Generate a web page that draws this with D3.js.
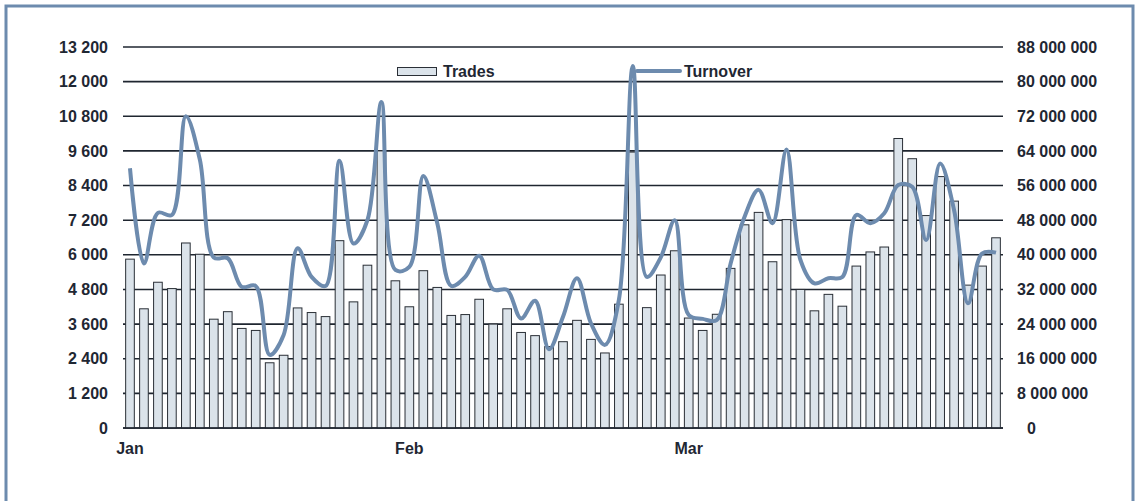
<!DOCTYPE html>
<html>
<head>
<meta charset="utf-8">
<script src="https://cdn.jsdelivr.net/npm/d3@7"></script>
<style>
  body { margin: 0; background: #fff; }
  text { font-family: "Liberation Sans", Arial, sans-serif; font-weight: bold; fill: #1f2733; }
</style>
</head>
<body>
<div id="chart"></div>
<script>
// daily trades (left axis)
var trades = [5850, 4130, 5050, 4830, 6410, 6020, 3770, 4030, 3450, 3380,
              2260, 2520, 4160, 4000, 3860, 6490, 4370, 5640, 9600, 5100,
              4200, 5450, 4870, 3900, 3930, 4460, 3600, 4130, 3310, 3200,
              2820, 2990, 3730, 3070, 2600, 4290, 9560, 4170, 5300, 6140,
              3810, 3380, 3940, 5530, 7040, 7470, 5760, 7220, 4800, 4060,
              4630, 4220, 5610, 6100, 6270, 10030, 9330, 7360, 8710, 7860,
              4950, 5610, 6590];
// daily turnover, millions (right axis)
var turnover = [60.0, 38.0, 49.7, 49.2, 72.0, 62.0, 39.4, 39.2, 32.6, 32.8,
                16.9, 21.5, 41.5, 34.9, 32.8, 61.7, 42.6, 48.0, 75.3, 36.5,
                37.2, 58.2, 47.3, 32.8, 34.9, 39.8, 32.0, 31.9, 25.3, 29.4,
                18.2, 25.7, 34.6, 24.2, 19.2, 29.6, 83.6, 34.9, 39.4, 48.0,
                26.1, 25.2, 24.9, 38.0, 48.8, 55.0, 47.3, 64.3, 38.8, 33.4,
                34.6, 34.9, 49.2, 47.3, 49.6, 56.1, 55.7, 43.4, 61.1, 50.3,
                28.8, 40.3, 40.5];
var monthLabels = ["Jan", "Feb", "Mar"];
var monthStarts = [0, 20, 40];
var leftTicks = [0, 1200, 2400, 3600, 4800, 6000, 7200, 8400, 9600, 10800, 12000, 13200];
var rightTicks = [0, 8, 16, 24, 32, 40, 48, 56, 64, 72, 80, 88];

var width = 1139, height = 501;
var margin = {top: 47, right: 136, bottom: 73, left: 123};

var svg = d3.select("#chart").append("svg")
    .attr("width", width)
    .attr("height", height);

// frame
svg.append("rect")
    .attr("x", 6).attr("y", 6)
    .attr("width", 1127).attr("height", 520)
    .attr("fill", "none")
    .attr("stroke", "#6d8bae")
    .attr("stroke-width", 3);

var x = d3.scaleBand()
    .domain(d3.range(trades.length))
    .range([margin.left, width - margin.right])
    .paddingInner(0.38)
    .paddingOuter(0.19);

var yL = d3.scaleLinear().domain([0, 13200]).range([height - margin.bottom, margin.top]);
var yR = d3.scaleLinear().domain([0, 88]).range([height - margin.bottom, margin.top]);

var fmt = function(v) { return d3.format(",")(v).replace(/,/g, " "); };

// gridlines
svg.append("g").selectAll("line")
    .data(leftTicks)
    .enter()
    .append("line")
        .attr("x1", margin.left).attr("x2", width - margin.right)
        .attr("y1", function(d) { return yL(d); })
        .attr("y2", function(d) { return yL(d); })
        .style("stroke", "#1f2630")
        .style("stroke-width", 1.6);

// left axis
var leftAxis = svg.append("g")
    .attr("transform", "translate(" + margin.left + ",0)")
    .call(d3.axisLeft(yL).tickValues(leftTicks).tickFormat(fmt).tickSize(0).tickPadding(15));
leftAxis.select(".domain").remove();
leftAxis.selectAll("text").style("font-size", "16px");

// right axis
var rightAxis = svg.append("g")
    .attr("transform", "translate(" + (width - margin.right) + ",0)")
    .call(d3.axisRight(yR).tickValues(rightTicks)
        .tickFormat(function(d) { return d === 0 ? "0" : fmt(d * 1000000); })
        .tickSize(0).tickPadding(14));
rightAxis.select(".domain").remove();
rightAxis.selectAll("text").style("font-size", "16px")
    .attr("dx", function(d) { return d === 0 ? 10 : 0; });

// bars
svg.append("g").selectAll("rect")
    .data(trades)
    .enter()
    .append("rect")
        .attr("x", function(d, i) { return x(i); })
        .attr("y", function(d) { return yL(d); })
        .attr("width", x.bandwidth())
        .attr("height", function(d) { return yL(0) - yL(d); })
        .style("fill", "#dbe3ea")
        .style("stroke", "#2a2f36")
        .style("stroke-width", 1);

// baseline
svg.append("line")
    .attr("x1", margin.left).attr("x2", width - margin.right)
    .attr("y1", yL(0)).attr("y2", yL(0))
    .style("stroke", "#1f2630").style("stroke-width", 1.6);

// turnover line
var line = d3.line()
    .x(function(d, i) { return x(i) + x.bandwidth() / 2; })
    .y(function(d) { return yR(d); })
    .curve(d3.curveCatmullRom.alpha(0.5));

svg.append("path")
    .datum(turnover)
    .attr("d", line)
    .style("fill", "none")
    .style("stroke", "#6d8bae")
    .style("stroke-width", 4)
    .style("stroke-linejoin", "round");

// month labels
svg.append("g").selectAll("text")
    .data(monthStarts)
    .enter()
    .append("text")
        .attr("x", function(d) { return x(d) + x.bandwidth() / 2; })
        .attr("y", 454)
        .attr("text-anchor", "middle")
        .style("font-size", "16px")
        .text(function(d, i) { return monthLabels[i]; });

// legend
var legend = svg.append("g");
legend.append("rect")
    .attr("x", 397.5).attr("y", 67.5).attr("width", 39).attr("height", 8)
    .style("fill", "#dbe3ea").style("stroke", "#2a2f36").style("stroke-width", 1);
legend.append("text").attr("x", 443).attr("y", 77).style("font-size", "16px").text("Trades");
legend.append("line")
    .attr("x1", 637).attr("x2", 680).attr("y1", 71).attr("y2", 71)
    .style("stroke", "#6d8bae").style("stroke-width", 4).style("stroke-linecap", "round");
legend.append("text").attr("x", 684).attr("y", 77).style("font-size", "16px").text("Turnover");
</script>
</body>
</html>
